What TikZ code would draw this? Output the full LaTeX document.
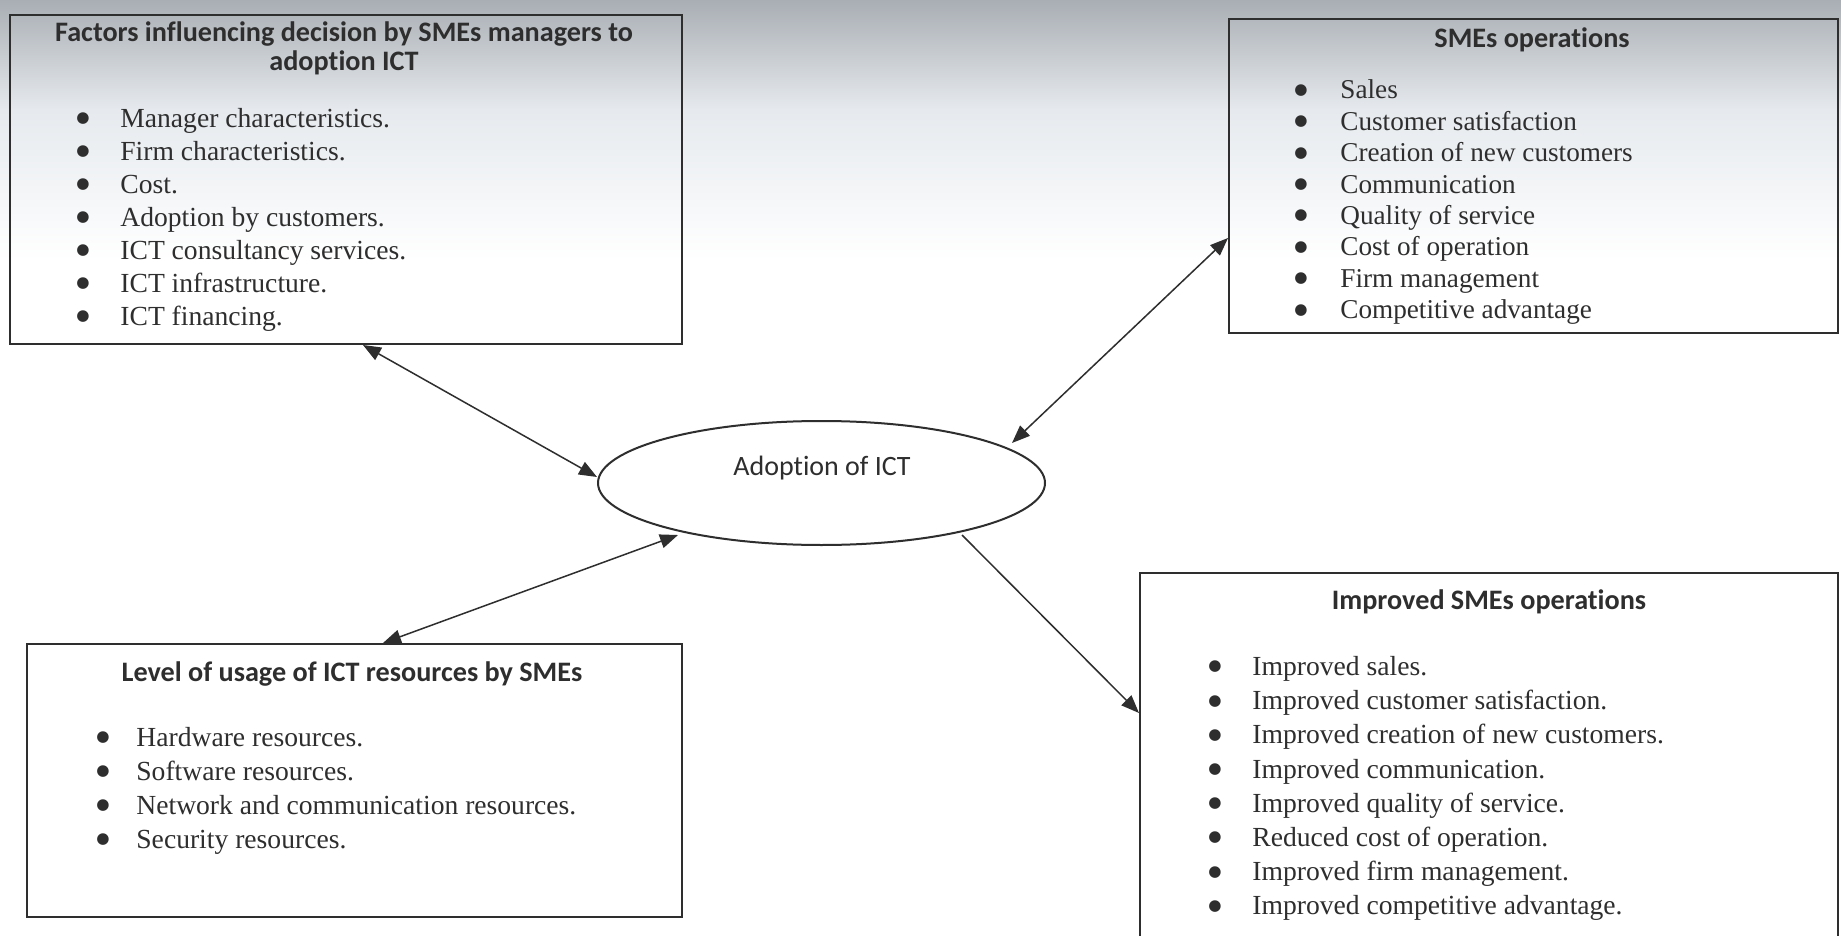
\documentclass[tikz,border=0pt]{standalone}
\usepackage{fontspec}
\setmainfont{Liberation Serif}
\newfontfamily\calfont[Ligatures=NoCommon]{Carlito}
\newfontfamily\dvfont{DejaVu Sans}
\usetikzlibrary{shapes.geometric,arrows.meta,calc}
\definecolor{ink}{HTML}{2E2E2E}
\definecolor{scantop}{HTML}{A9AEB4}
\definecolor{scanmid}{HTML}{E6EAEE}
\newcommand{\bigbul}{\raisebox{2.3pt}{\dvfont\fontsize{7.6}{8}\selectfont ●}}
\newcommand{\itm}[1]{\bigbul & #1\\}
\begin{document}
\begin{tikzpicture}[x=0.5pt,y=-0.5pt,
  box/.style={draw=ink,line width=1pt,anchor=north west,inner sep=0pt},
  ttl/.style={font=\calfont\bfseries\fontsize{14.1}{14.5}\selectfont,align=center,inner sep=0pt,text=ink},
  lst/.style={anchor=base west,inner sep=0pt,text=ink},
  link/.style={line width=0.75pt,draw=ink},
  tip/.style={-{Triangle[length=9pt,width=7pt]}},
  tips/.style={{Triangle[length=9pt,width=7pt]}-{Triangle[length=9pt,width=7pt]}},
]
\clip (0,0) rectangle (1841,936);
\fill[white] (0,0) rectangle (1841,936);
\shade[top color=scantop,bottom color=scanmid] (0,0) rectangle (1841,110);
\shade[top color=scanmid,bottom color=white] (0,110) rectangle (1841,260);

% boxes
\node[box,minimum width=336pt,minimum height=164.5pt] (b1) at (9,14) {};
\node[box,minimum width=304.5pt,minimum height=157pt] (b2) at (1228,18) {};
\node[box,minimum width=327.5pt,minimum height=136.5pt] (b3) at (26,643) {};
\node[box,minimum width=349pt,minimum height=200pt] (b4) at (1139,572) {};

% ellipse
\node[ellipse,draw=ink,line width=1pt,minimum width=223.5pt,minimum height=62pt,inner sep=0pt] (ell) at (821.5,483) {};
\node[font=\calfont\fontsize{14}{16}\selectfont,text=ink,inner sep=0pt] (ellt) at (822,468) {Adoption of ICT};

% titles
\node[ttl] (t1) at (344,48.5) {Factors influencing decision by SMEs managers to\\adoption ICT};
\node[ttl] (t2) at (1532,40) {SMEs operations};
\node[ttl] (t3) at (352,674) {Level of usage of ICT resources by SMEs};
\node[ttl] (t4) at (1489,602) {Improved SMEs operations};

% lists
\node[lst,font=\fontsize{13.8}{16.5}\selectfont] (l1) at (76,127.5) {\begin{tabular}[t]{@{}p{22pt}@{}l@{}}
\itm{Manager characteristics.}
\itm{Firm characteristics.}
\itm{Cost.}
\itm{Adoption by customers.}
\itm{ICT consultancy services.}
\itm{ICT infrastructure.}
\itm{ICT financing.}
\end{tabular}};
\node[lst,font=\fontsize{13.6}{15.7}\selectfont] (l2) at (1294,99) {\begin{tabular}[t]{@{}p{23pt}@{}l@{}}
\itm{Sales}
\itm{Customer satisfaction}
\itm{Creation of new customers}
\itm{Communication}
\itm{Quality of service}
\itm{Cost of operation}
\itm{Firm management}
\itm{Competitive advantage}
\end{tabular}};
\node[lst,font=\fontsize{13.8}{17}\selectfont] (l3) at (96,746.5) {\begin{tabular}[t]{@{}p{20pt}@{}l@{}}
\itm{Hardware resources.}
\itm{Software resources.}
\itm{Network and communication resources.}
\itm{Security resources.}
\end{tabular}};
\node[lst,font=\fontsize{13.8}{17.1}\selectfont] (l4) at (1208,675.5) {\begin{tabular}[t]{@{}p{22pt}@{}l@{}}
\itm{Improved sales.}
\itm{Improved customer satisfaction.}
\itm{Improved creation of new customers.}
\itm{Improved communication.}
\itm{Improved quality of service.}
\itm{Reduced cost of operation.}
\itm{Improved firm management.}
\itm{Improved competitive advantage.}
\end{tabular}};

% connectors
\coordinate (a1) at ($(b1.south west)+(354,0)$);
\coordinate (a2) at ($(b2.north west)+(0,220)$);
\coordinate (a3) at ($(b3.north west)+(357,0)$);
\coordinate (a4) at ($(b4.north west)+(0,141)$);
\coordinate (e1) at ($(ell.center)+(-224.5,-6)$);
\coordinate (e2) at ($(ell.center)+(190.5,-40)$);
\coordinate (e3) at ($(ell.center)+(-143.5,52)$);
\coordinate (e4) at ($(ell.center)+(140.5,52)$);
\draw[link,tips] (a1) -- (e1);
\draw[link,tips] (a2) -- (e2);
\draw[link,tips] (a3) -- (e3);
\draw[link,tip] (e4) -- (a4);
\end{tikzpicture}
\end{document}
